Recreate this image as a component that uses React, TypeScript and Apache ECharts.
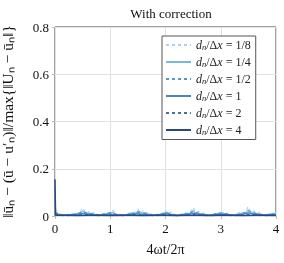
import React, { useEffect, useRef } from "react";
import * as echarts from "echarts";

const TITLE = "With correction";
const X_LABEL = "4ωt/2π";
const Y_LABEL = "‖ūₙ − (ū − u′ₙ)‖/max{‖Uₙ − ūₙ‖}";
const SERIES_NAMES = ["1/8", "1/4", "1/2", "1", "2", "4"];
const COLORS = ["#a9d3ee", "#7db6de", "#4d9bd1", "#4786c2", "#3e6fae", "#27497f"];

const STEP_FINE = 0.05;
const STEP_MID = 0.1;

const V_1_8 = [
  0.030, 0.018, 0.006, 0.010, 0.004, 0.007, 0.005, 0.012, 0.008, 0.016,
  0.034, 0.014, 0.019, 0.008, 0.015, 0.004, 0.006, 0.003, 0.013, 0.007,
  0.019, 0.024, 0.011, 0.005, 0.004, 0.003, 0.009, 0.014, 0.008, 0.017,
  0.030, 0.013, 0.024, 0.010, 0.014, 0.006, 0.004, 0.005, 0.011, 0.006,
  0.024, 0.009, 0.017, 0.006, 0.004, 0.005, 0.010, 0.015, 0.009, 0.018,
  0.036, 0.015, 0.020, 0.009, 0.013, 0.004, 0.005, 0.003, 0.014, 0.008,
  0.020, 0.009, 0.016, 0.005, 0.003, 0.004, 0.011, 0.016, 0.009, 0.022,
  0.040, 0.014, 0.021, 0.010, 0.016, 0.005, 0.004, 0.006, 0.012, 0.007,
  0.013,
];
const V_1_4 = [
  0.020, 0.010, 0.005, 0.004, 0.006, 0.003, 0.008, 0.006, 0.011, 0.009,
  0.022, 0.010, 0.012, 0.006, 0.009, 0.003, 0.004, 0.005, 0.008, 0.012,
  0.014, 0.016, 0.007, 0.004, 0.003, 0.005, 0.006, 0.010, 0.012, 0.009,
  0.021, 0.016, 0.011, 0.014, 0.007, 0.004, 0.003, 0.004, 0.007, 0.010,
  0.016, 0.012, 0.008, 0.005, 0.003, 0.004, 0.007, 0.009, 0.013, 0.010,
  0.024, 0.011, 0.013, 0.007, 0.008, 0.003, 0.004, 0.005, 0.009, 0.011,
  0.014, 0.012, 0.007, 0.004, 0.003, 0.004, 0.008, 0.010, 0.014, 0.011,
  0.026, 0.012, 0.015, 0.008, 0.010, 0.004, 0.003, 0.005, 0.008, 0.011,
  0.009,
];
const V_1_2 = [
  0.015, 0.006, 0.004, 0.007, 0.010, 0.018, 0.012, 0.008, 0.004, 0.009,
  0.013, 0.008, 0.004, 0.006, 0.011, 0.016, 0.013, 0.007, 0.004, 0.008,
  0.014, 0.009, 0.004, 0.006, 0.010, 0.019, 0.011, 0.007, 0.003, 0.009,
  0.012, 0.010, 0.004, 0.005, 0.011, 0.021, 0.013, 0.008, 0.004, 0.007,
  0.009,
];
const V_1 = [
  0.010, 0.004, 0.003, 0.005, 0.007, 0.011, 0.008, 0.005, 0.003, 0.006,
  0.009, 0.005, 0.003, 0.004, 0.008, 0.010, 0.007, 0.004, 0.003, 0.005,
  0.010, 0.006, 0.003, 0.004, 0.007, 0.012, 0.008, 0.005, 0.003, 0.006,
  0.008, 0.006, 0.003, 0.004, 0.008, 0.013, 0.009, 0.005, 0.003, 0.005,
  0.006,
];
const V_2 = [
  0.006, 0.003, 0.002, 0.003, 0.004, 0.006, 0.005, 0.003, 0.002, 0.004,
  0.005, 0.003, 0.002, 0.003, 0.005, 0.006, 0.004, 0.003, 0.002, 0.003,
  0.006, 0.004, 0.002, 0.003, 0.004, 0.007, 0.005, 0.003, 0.002, 0.004,
  0.005, 0.004, 0.002, 0.003, 0.005, 0.007, 0.005, 0.003, 0.002, 0.003,
  0.004,
];
const T_4 = [0, 0.01, 0.2, 0.4, 0.6, 0.8, 1.0, 1.2, 1.4, 1.6, 1.8, 2.0, 2.2, 2.4, 2.6, 2.8, 3.0, 3.2, 3.4, 3.6, 3.8, 4.0];
const V_4 = [0.155, 0.003, 0.003, 0.002, 0.003, 0.003, 0.002, 0.003, 0.003, 0.002, 0.003, 0.003, 0.002, 0.003, 0.003, 0.002, 0.003, 0.003, 0.002, 0.003, 0.003, 0.002];

const X_TICKS = { min: 0, max: 4, interval: 1 };
const Y_TICKS = { min: 0, max: 0.8, interval: 0.2 };

const withStep = (vals: number[], step: number) => vals.map((v, i) => [i * step, v]);
const withT = (ts: number[], vals: number[]) => vals.map((v, i) => [ts[i], v]);

const FONT = "Liberation Serif";

export default function App() {
  const ref = useRef<HTMLDivElement>(null);
  useEffect(() => {
    if (!ref.current) return;
    const chart = echarts.init(ref.current, null, { renderer: "svg" });
    const datasets = [
      withStep(V_1_8, STEP_FINE),
      withStep(V_1_4, STEP_FINE),
      withStep(V_1_2, STEP_MID),
      withStep(V_1, STEP_MID),
      withStep(V_2, STEP_MID),
      withT(T_4, V_4),
    ];
    const styles = [
      { type: [3, 3], width: 1.1 },
      { type: "solid", width: 1.1 },
      { type: [3, 3], width: 1.3 },
      { type: "solid", width: 1.4 },
      { type: [3, 3], width: 1.5 },
      { type: "solid", width: 1.5 },
    ];
    chart.setOption({
      animation: false,
      title: {
        text: TITLE,
        left: 166,
        top: 2,
        textAlign: "center",
        textStyle: { fontFamily: FONT, fontSize: 13, fontWeight: "normal", color: "#111" },
      },
      grid: {
        left: 55,
        right: 8,
        top: 27,
        bottom: 47,
        show: true,
        borderColor: "#444",
        borderWidth: 1,
        containLabel: false,
        outerBoundsMode: "none",
      },
      xAxis: {
        type: "value",
        ...X_TICKS,
        name: X_LABEL,
        nameLocation: "middle",
        nameGap: 26,
        nameTextStyle: { fontFamily: FONT, fontSize: 14, color: "#111" },
        axisLine: { show: false },
        axisTick: { show: true, length: 3, lineStyle: { color: "#bbb" } },
        axisLabel: { fontFamily: FONT, fontSize: 13, color: "#111", margin: 6 },
        splitLine: { show: true, lineStyle: { color: "#e2e2e2", width: 1 } },
      },
      yAxis: {
        type: "value",
        ...Y_TICKS,
        name: Y_LABEL,
        nameLocation: "middle",
        nameRotate: 90,
        nameGap: 40,
        nameTextStyle: { fontFamily: FONT, fontSize: 15.5, color: "#111" },
        axisLine: { show: false },
        axisTick: { show: true, length: 3, lineStyle: { color: "#bbb" } },
        axisLabel: {
          fontFamily: FONT,
          fontSize: 13,
          color: "#111",
          margin: 6,
          formatter: (v: number) => (v === 0 ? "0" : v.toFixed(1)),
        },
        splitLine: { show: true, lineStyle: { color: "#e2e2e2", width: 1 } },
      },
      legend: {
        orient: "vertical",
        left: 162,
        top: 36,
        padding: [3, 5, 3, 3],
        itemWidth: 25,
        itemHeight: 11,
        itemGap: 4.5,
        backgroundColor: "#fff",
        borderColor: "#555",
        borderWidth: 1,
        itemStyle: { opacity: 0 },
        data: SERIES_NAMES,
        formatter: (n: string) => `{i|d}{s|n}/Δ{i|x} = ${n}`,
        textStyle: {
          fontFamily: FONT,
          fontSize: 12,
          color: "#222",
          rich: {
            i: { fontFamily: FONT, fontStyle: "italic", fontSize: 12, color: "#222" },
            s: { fontFamily: FONT, fontStyle: "italic", fontSize: 8.5, color: "#222", verticalAlign: "bottom", padding: [4, 0, 0, 0] },
          },
        },
      },
      series: SERIES_NAMES.map((name, i) => ({
        name,
        type: "line",
        data: datasets[i],
        showSymbol: false,
        symbol: "none",
        itemStyle: { color: COLORS[i] },
        lineStyle: { color: COLORS[i], ...styles[i] },
        z: 2 + i,
      })),
    });
    return () => chart.dispose();
  }, []);
  return <div ref={ref} style={{ position: "fixed", left: 0, top: 0, width: 284, height: 263 }} />;
}
